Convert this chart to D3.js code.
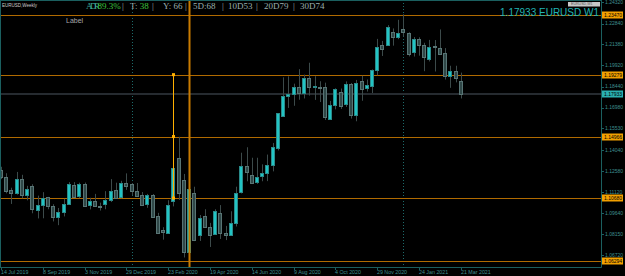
<!DOCTYPE html>
<html><head><meta charset="utf-8">
<script src="https://cdn.jsdelivr.net/npm/d3@7"></script>
<style>html,body{margin:0;padding:0;background:#000;overflow:hidden}svg{display:block}</style>
</head><body><svg id="c" width="625" height="276"></svg>
<script>
const dates = ["2019-07-14","2019-07-21","2019-07-28","2019-08-04","2019-08-11","2019-08-18","2019-08-25","2019-09-01","2019-09-08","2019-09-15","2019-09-22","2019-09-29","2019-10-06","2019-10-13","2019-10-20","2019-10-27","2019-11-03","2019-11-10","2019-11-17","2019-11-24","2019-12-01","2019-12-08","2019-12-15","2019-12-22","2019-12-29","2020-01-05","2020-01-12","2020-01-19","2020-01-26","2020-02-02","2020-02-09","2020-02-16","2020-02-23","2020-03-01","2020-03-08","2020-03-15","2020-03-22","2020-03-29","2020-04-05","2020-04-12","2020-04-19","2020-04-26","2020-05-03","2020-05-10","2020-05-17","2020-05-24","2020-05-31","2020-06-07","2020-06-14","2020-06-21","2020-06-28","2020-07-05","2020-07-12","2020-07-19","2020-07-26","2020-08-02","2020-08-09","2020-08-16","2020-08-23","2020-08-30","2020-09-06","2020-09-13","2020-09-20","2020-09-27","2020-10-04","2020-10-11","2020-10-18","2020-10-25","2020-11-01","2020-11-08","2020-11-15","2020-11-22","2020-11-29","2020-12-06","2020-12-13","2020-12-20","2020-12-27","2021-01-03","2021-01-10","2021-01-17","2021-01-24","2021-01-31","2021-02-07","2021-02-14","2021-02-21","2021-02-28","2021-03-07","2021-03-14","2021-03-21"];
const open  = [1.1263,1.1216,1.1123,1.1105,1.1198,1.1091,1.1151,1.0984,1.1019,1.1072,1.1012,1.0937,1.0977,1.1030,1.1159,1.1077,1.1166,1.1019,1.1047,1.1014,1.1024,1.1054,1.1123,1.1077,1.1175,1.1166,1.1116,1.1088,1.1026,1.1088,1.0942,1.0844,1.0825,1.1042,1.1344,1.1193,1.0693,1.1105,1.0805,1.0942,1.0863,1.0816,1.0961,1.0825,1.0809,1.0891,1.1109,1.1291,1.1228,1.1181,1.1216,1.1240,1.1298,1.1415,1.1642,1.1780,1.1791,1.1840,1.1798,1.1903,1.1849,1.1845,1.1840,1.1619,1.1712,1.1810,1.1721,1.1861,1.1647,1.1886,1.1833,1.1851,1.1961,1.2135,1.2135,1.2224,1.2189,1.2245,1.2221,1.2081,1.2175,1.2135,1.2043,1.2130,1.2117,1.2077,1.1921,1.1954,1.1884];
const high  = [1.1286,1.1241,1.1140,1.1250,1.1230,1.1153,1.1164,1.1085,1.1109,1.1076,1.1025,1.0999,1.1063,1.1179,1.1179,1.1175,1.1176,1.1070,1.1097,1.1036,1.1116,1.1200,1.1175,1.1188,1.1240,1.1172,1.1173,1.1110,1.1097,1.1096,1.0965,1.0865,1.1053,1.1355,1.1495,1.1236,1.1147,1.1147,1.0950,1.0990,1.0895,1.0990,1.1019,1.0874,1.0976,1.1147,1.1384,1.1422,1.1349,1.1349,1.1303,1.1371,1.1452,1.1660,1.1909,1.1916,1.1865,1.1966,1.1928,1.2011,1.1917,1.1882,1.1872,1.1745,1.1833,1.1831,1.1881,1.1870,1.1891,1.1920,1.1894,1.1964,1.2177,1.2163,1.2273,1.2250,1.2310,1.2349,1.2223,1.2190,1.2188,1.2150,1.2170,1.2169,1.2243,1.2113,1.1990,1.1990,1.1942];
const low   = [1.1200,1.1101,1.1027,1.1092,1.1066,1.1052,1.0962,1.0926,1.0927,1.0990,1.0905,1.0879,1.0940,1.1023,1.1071,1.1067,1.1016,1.0989,1.1014,1.0981,1.0990,1.1040,1.1065,1.1066,1.1125,1.1086,1.1085,1.1018,1.1000,1.0940,1.0827,1.0778,1.0818,1.1010,1.1055,1.0654,1.0636,1.0768,1.0769,1.0868,1.0727,1.0814,1.0783,1.0775,1.0808,1.0870,1.1100,1.1185,1.1168,1.1167,1.1185,1.1186,1.1254,1.1400,1.1640,1.1696,1.1711,1.1753,1.1762,1.1782,1.1752,1.1737,1.1612,1.1612,1.1686,1.1689,1.1703,1.1622,1.1603,1.1746,1.1810,1.1800,1.1923,1.2058,1.2130,1.2130,1.2175,1.2193,1.2055,1.2054,1.2060,1.1952,1.2020,1.1950,1.2065,1.1894,1.1836,1.1874,1.1762];
const close = [1.1214,1.1118,1.1105,1.1200,1.1086,1.1130,1.0989,1.1019,1.1065,1.1012,1.0937,1.0972,1.1030,1.1166,1.1077,1.1164,1.1014,1.1047,1.1014,1.1012,1.1054,1.1116,1.1069,1.1175,1.1154,1.1119,1.1084,1.1019,1.1088,1.0937,1.0821,1.0832,1.1019,1.1275,1.1100,1.0693,1.1130,1.0779,1.0926,1.0863,1.0809,1.0977,1.0825,1.0809,1.0891,1.1100,1.1288,1.1251,1.1174,1.1216,1.1240,1.1298,1.1426,1.1659,1.1782,1.1791,1.1840,1.1798,1.1903,1.1840,1.1849,1.1840,1.1631,1.1717,1.1826,1.1712,1.1861,1.1642,1.1872,1.1833,1.1857,1.1961,1.2124,1.2107,1.2263,1.2186,1.2217,1.2221,1.2077,1.2175,1.2135,1.2054,1.2124,1.2125,1.2077,1.1914,1.1954,1.1907,1.17933];

const priceTicks = [1.24320,1.22840,1.21380,1.19920,1.18440,1.16980,1.15530,1.14040,1.12580,1.11120,1.09640,1.08150,1.06720];
const timeTickIdx = [0,8,16,24,32,40,48,56,64,72,80,88];
const timeTickLabels = ["14 Jul 2019","8 Sep 2019","3 Nov 2019","29 Dec 2019","23 Feb 2020","19 Apr 2020","14 Jun 2020","9 Aug 2020","4 Oct 2020","29 Nov 2020","24 Jan 2021","21 Mar 2021"];
const levels = [1.23470,1.19279,1.14966,1.10680,1.06294];
const levelLabels = ["1.23470","1.19279","1.14966","1.10680","1.06294"];
const bid = 1.17933;
const separatorIdx = [25,77];
const vlineIdx = 36;
const measureIdx = 33;
const measurePrices = [1.19279,1.14966,1.10680];
const statLabels = ["T: ","Y: ","5D:","10D","20D","30D"];
const statValues = ["38","66","68","53","79","74"];
const adrLabel = "ADR", adrValue = "89.3%";

const W=625,H=276, plotR=601, plotB=267;
const SANS="Liberation Sans, Arial, sans-serif", SERIF="Liberation Serif, Times New Roman, serif";
const svg = d3.select("#c");
svg.append("rect").attr("width",W).attr("height",H).attr("fill","#000");

const x = d3.scaleLinear().domain([0,88]).range([1,460.8]);
const y = d3.scaleLinear().domain([1.06294,1.23470]).range([261,14.5]);
const px = v => Math.round(x(v));

// period separators
svg.selectAll(".sep").data(separatorIdx).join("line")
  .attr("x1",d=>px(d)+0.5).attr("x2",d=>px(d)+0.5).attr("y1",0).attr("y2",plotB)
  .attr("stroke","#1d6a6a").attr("stroke-dasharray","1,2");

// bid line
svg.append("line").attr("x1",0).attr("x2",plotR).attr("y1",Math.round(y(bid))).attr("y2",Math.round(y(bid)))
  .attr("stroke","#262b30").attr("stroke-width",2);

// level lines
svg.selectAll(".lvl").data(levels).join("line")
  .attr("x1",0).attr("x2",plotR).attr("y1",d=>Math.round(y(d))+0.5).attr("y2",d=>Math.round(y(d))+0.5)
  .attr("stroke","#b06a00").attr("stroke-width",1);

// candles
const idx = d3.range(dates.length);
const g = svg.append("g");
g.selectAll(".wick").data(idx).join("line")
  .attr("x1",i=>px(i)+0.5).attr("x2",i=>px(i)+0.5)
  .attr("y1",i=>y(high[i])).attr("y2",i=>y(low[i]))
  .attr("stroke","#3c4a4a").attr("stroke-width",1);
g.selectAll(".body").data(idx).join("rect")
  .attr("x",i=>px(i)-1.5).attr("width",3)
  .attr("y",i=>Math.round(y(Math.max(open[i],close[i])))+0.5)
  .attr("height",i=>Math.max(1,Math.round(Math.abs(y(open[i])-y(close[i])))))
  .attr("fill",i=>close[i]>=open[i]?"#22c4c4":"#304848")
  .attr("stroke",i=>close[i]>=open[i]?"#2a8a8a":"#587474").attr("stroke-width",1);

// measurement vertical line
const mx = px(measureIdx)+0.5;
svg.append("line").attr("x1",mx).attr("x2",mx).attr("y1",y(measurePrices[0])).attr("y2",y(measurePrices[2]))
  .attr("stroke","#ffb000").attr("stroke-width",1);
svg.selectAll(".mk").data(measurePrices).join("rect")
  .attr("x",mx-1.5).attr("y",d=>y(d)-1.5).attr("width",3).attr("height",3).attr("fill","#ffb000");

// orange vertical line
const vx = px(vlineIdx)+0.5;
svg.append("line").attr("x1",vx).attr("x2",vx).attr("y1",0).attr("y2",plotB)
  .attr("stroke","#c87a00").attr("stroke-width",2);

// borders
const bc="#1b5f5f";
svg.append("line").attr("x1",plotR+0.5).attr("x2",plotR+0.5).attr("y1",0).attr("y2",plotB+0.5).attr("stroke",bc);
svg.append("line").attr("x1",0).attr("x2",plotR+0.5).attr("y1",plotB+0.5).attr("y2",plotB+0.5).attr("stroke",bc);
svg.append("line").attr("x1",0.5).attr("x2",0.5).attr("y1",0).attr("y2",plotB).attr("stroke",bc);
svg.append("line").attr("x1",0).attr("x2",plotR).attr("y1",0.5).attr("y2",0.5).attr("stroke",bc);

// price axis
const ya = svg.append("g");
ya.selectAll("line").data(priceTicks).join("line")
  .attr("x1",plotR).attr("x2",plotR+3).attr("y1",d=>Math.round(y(d))+0.5).attr("y2",d=>Math.round(y(d))+0.5).attr("stroke",bc);
ya.selectAll("text").data(priceTicks).join("text")
  .attr("x",plotR+4).attr("y",d=>y(d)+1.8).text(d=>d.toFixed(5))
  .attr("font-family",SANS).attr("font-size",5).attr("fill","#3e8f8f");

// level boxes
const lb = svg.append("g");
levels.forEach((v,k)=>{
  const yy = Math.round(y(v));
  lb.append("rect").attr("x",plotR+1).attr("y",yy-3.5).attr("width",21).attr("height",7).attr("fill","#f2a000");
  lb.append("text").attr("x",plotR+3).attr("y",yy+1.8).text(levelLabels[k])
    .attr("font-family",SANS).attr("font-size",5).attr("fill","#000");
});
{
  const yy = Math.round(y(bid));
  lb.append("rect").attr("x",plotR+1).attr("y",yy-3.5).attr("width",21).attr("height",7).attr("fill","#2ab0b0");
  lb.append("text").attr("x",plotR+3).attr("y",yy+1.8).text(bid.toFixed(5))
    .attr("font-family",SANS).attr("font-size",5).attr("fill","#000");
}

// time axis
const xa = svg.append("g");
xa.selectAll("line").data(timeTickIdx).join("line")
  .attr("x1",i=>px(i)+0.5).attr("x2",i=>px(i)+0.5).attr("y1",plotB).attr("y2",plotB+3).attr("stroke",bc);
xa.selectAll("text").data(timeTickIdx).join("text")
  .attr("x",i=>px(i)).attr("y",plotB+7).text((i,k)=>timeTickLabels[k])
  .attr("font-family",SANS).attr("font-size",5.3).attr("fill","#3e8f8f");

// header
svg.append("text").attr("x",2).attr("y",6.5).text("EURUSD,Weekly")
  .attr("font-family",SANS).attr("font-size",4.5).attr("fill","#ccc");
svg.append("text").attr("x",66).attr("y",23).text("Label")
  .attr("font-family",SANS).attr("font-size",7).attr("fill","#a8a8a8");

const adr = svg.append("text").attr("x",86).attr("y",9)
  .attr("font-family",SERIF).attr("font-size",9);
adr.append("tspan").text(adrLabel).attr("fill","#3fa898").attr("letter-spacing","-2.5px");
adr.append("tspan").text(adrValue).attr("fill","#3cc43c");
const statX = [130,163,193,228,264,300];
statLabels.forEach((s,k)=>{
  const t = svg.append("text").attr("x",statX[k]).attr("y",9)
    .attr("font-family",SERIF).attr("font-size",9).attr("fill","#9aaeae");
  t.append("tspan").text(s);
  t.append("tspan").text(statValues[k]).attr("fill",k===0?"#3cc43c":"#9aaeae");
});
const sepX  = [122,152,185,222,256,293];
svg.selectAll(".sx").data(sepX).join("text").attr("x",d=>d).attr("y",9).text("|")
  .attr("font-family",SERIF).attr("font-size",9).attr("fill","#9aaeae");

// top-right
svg.append("rect").attr("x",568).attr("y",2).attr("width",32).attr("height",4.5).attr("fill","#c8c8c8");
svg.append("text").attr("x",571).attr("y",5.4).text("EURUSD,W1")
  .attr("font-family",SANS).attr("font-size",3.6).attr("fill","#555");
svg.append("text").attr("x",599).attr("y",15.5).attr("text-anchor","end").text(bid.toFixed(5)+" EURUSD W1")
  .attr("font-family",SANS).attr("font-size",10).attr("fill","#20b4b4");
</script></body></html>
